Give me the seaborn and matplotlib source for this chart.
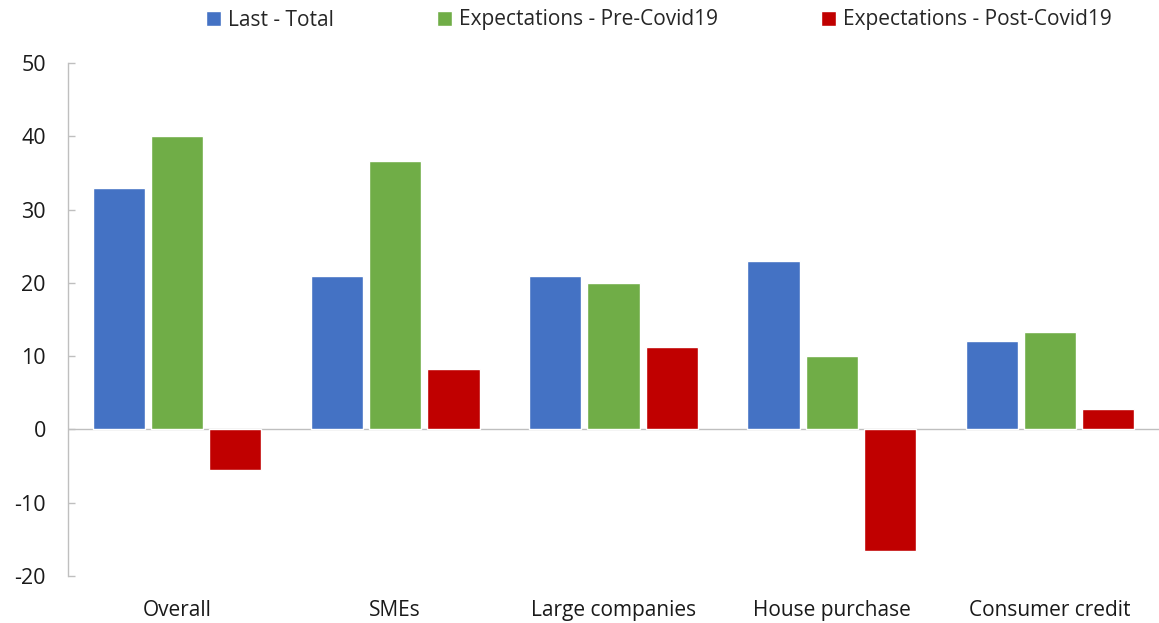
import matplotlib
matplotlib.use("Agg")
import matplotlib.pyplot as plt
import seaborn as sns
import pandas as pd

categories = ["Overall", "SMEs", "Large companies", "House purchase", "Consumer credit"]
series_names = ["Last - Total", "Expectations - Pre-Covid19", "Expectations - Post-Covid19"]
last_total = [33.0, 21.0, 21.0, 23.0, 12.0]
pre_covid = [40.0, 36.6, 20.0, 10.0, 13.3]
post_covid = [-5.6, 8.3, 11.2, -16.6, 2.8]
y_ticks = [-20, -10, 0, 10, 20, 30, 40, 50]
colors = ["#4472C4", "#70AD47", "#C00000"]

rows = []
for vals, name in zip([last_total, pre_covid, post_covid], series_names):
    for c, v in zip(categories, vals):
        rows.append({"category": c, "series": name, "value": v})
df = pd.DataFrame(rows)

sns.set_theme(style="white")
plt.rcParams["font.family"] = ["Open Sans", "DejaVu Sans"]

fig = plt.figure(figsize=(11.59, 6.23), dpi=100)
ax = fig.add_axes([68/1159, 1 - 576/623, (1159-68)/1159, (576-63)/623])

sns.barplot(data=df, x="category", y="value", hue="series", order=categories,
            hue_order=series_names, palette=colors, width=0.8, gap=0.1,
            saturation=1, ax=ax, legend=True)

ax.set_xlim(-0.5, 4.5)
ax.set_ylim(-20, 50)
ax.set_yticks(y_ticks)
ax.set_yticklabels([str(t) for t in y_ticks], fontsize=15.5, color="#1a1a1a")
ax.set_xlabel("")
ax.set_ylabel("")
ax.tick_params(axis="x", length=0, labelsize=15, labelcolor="#1a1a1a", pad=17)
ax.tick_params(axis="y", left=True, direction="in", length=5, width=1, color="#bfbfbf", pad=16)
for s in ["top", "right", "bottom"]:
    ax.spines[s].set_visible(False)
ax.spines["left"].set_color("#bfbfbf")
ax.spines["left"].set_linewidth(1)
ax.axhline(0, color="#bfbfbf", linewidth=1, zorder=0.5)

handles, labels = ax.get_legend_handles_labels()
ax.get_legend().remove()
fig.legend(handles, labels, loc="center", bbox_to_anchor=(659/1159, 1 - 20/623),
           ncol=3, frameon=False, fontsize=15, handlelength=0.7, handleheight=0.7,
           handletextpad=0.35, columnspacing=4.95, borderaxespad=0, borderpad=0)

fig.savefig("out.png", dpi=100)
